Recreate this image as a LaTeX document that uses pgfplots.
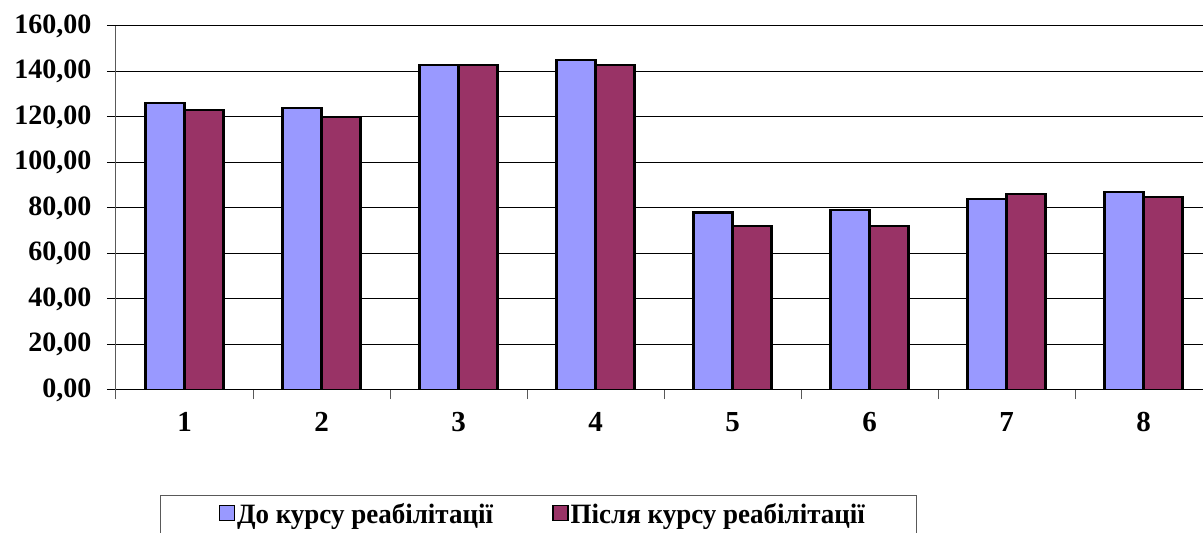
\documentclass[border=0pt]{standalone}
\usepackage{fontspec}
\setmainfont{Liberation Serif}
\usepackage{graphicx}
\usepackage{pgfplots}
\pgfplotsset{compat=1.18}
\definecolor{cA}{HTML}{9999FF}
\definecolor{cB}{HTML}{993366}
\begin{document}
\begin{tikzpicture}[x=1pt,y=1pt]
\begin{axis}[
 at={(116pt,143pt)}, anchor=south west,
 scale only axis, width=1087pt, height=364pt,
 xmin=0.5, xmax=8.434, ymin=0, ymax=160,
 axis x line*=bottom, axis y line*=left,
 x axis line style={black, line width=1pt},
 y axis line style={gray!70!black, line width=1pt},
 ybar=0pt, bar width=39pt,
 ytick={0,20,...,160},
 ymajorgrids, grid style={black, line width=1pt},
 xtick={0.5,1.5,...,7.5}, xticklabels={},
 extra x ticks={1,2,3,4,5,6,7,8},
 extra x tick labels={1,2,3,4,5,6,7,8},
 extra x tick style={major tick length=0pt, grid=none},
 tick align=outside,
 major tick length=9pt,
 xtick style={gray!70!black, line width=1pt},
 ytick style={black, line width=1pt},
 /pgf/number format/assume math mode=true,
 yticklabel={\pgfmathprintnumber[fixed,fixed zerofill,precision=2,use comma]{\tick}},
 yticklabel style={font=\fontsize{28}{32}\selectfont\bfseries, xshift=-12pt},
 xticklabel style={font=\fontsize{29}{33}\selectfont\bfseries, yshift=-19pt},
 legend columns=2,
 legend cell align=left,
 legend image code/.code={\draw[#1,line width=1.5pt] (0pt,8pt) rectangle (15pt,23pt);},
 legend style={at={(0.04048,-0.28846)}, anchor=north west,
   draw=gray!70!black, line width=1pt,
   inner xsep=58pt, inner ysep=8pt,
   font=\fontsize{28}{32}\selectfont\bfseries,
   nodes={inner xsep=2pt, inner ysep=0pt, text height=20pt, text depth=30pt},
   /tikz/every even column/.append style={column sep=57pt}},
]
\addplot[fill=cA, draw=black, line width=2.2pt] coordinates {(1,126) (2,124) (3,143) (4,145) (5,78) (6,79) (7,84) (8,87)};
\addplot[fill=cB, draw=black, line width=2.2pt] coordinates {(1,123) (2,120) (3,143) (4,143) (5,72) (6,72) (7,86) (8,85)};
\legend{\scalebox{0.964}[1]{До курсу реабілітації}, \makebox[286pt][l]{\scalebox{0.964}[1]{Після курсу реабілітації}}}
\end{axis}
\pgfresetboundingbox
\path[use as bounding box] (0,0) rectangle (1203pt,533pt);
\end{tikzpicture}
\end{document}
